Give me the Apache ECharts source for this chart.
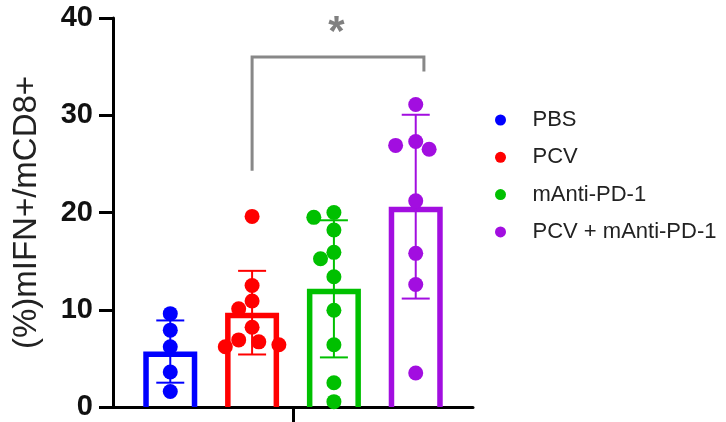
<!DOCTYPE html>
<html>
<head>
<meta charset="utf-8">
<script src="https://cdn.jsdelivr.net/npm/echarts@6/dist/echarts.min.js"></script>
<style>
html,body{margin:0;padding:0;background:#fff;}
#c{width:726px;height:422px;}
</style>
</head>
<body>
<div id="c"></div>
<script>
// ---- data ----
const groups = ['PBS', 'PCV', 'mAnti-PD-1', 'PCV + mAnti-PD-1'];
const colors = ['#0000ff', '#ff0000', '#00c000', '#a20ee0'];
const pbsValues = [9.6, 7.9, 6.2, 3.6, 1.6];
const pcvValues = [19.6, 12.5, 10.9, 10.1, 8.2, 6.9, 6.7, 6.4, 6.2];
const antiValues = [20.0, 19.5, 18.2, 15.9, 15.25, 13.4, 9.95, 6.4, 2.5, 0.55];
const comboValues = [31.1, 27.3, 26.9, 26.5, 21.2, 15.8, 12.6, 3.5];
const means = [5.7, 9.7, 12.15, 20.6];
const sds = [3.2, 4.3, 7.05, 9.45];
const yTicks = [0, 10, 20, 30, 40];
const yTitle = '(%)mIFN+/mCD8+';
const sigLabel = '*';
const sigFrom = 2, sigTo = 4; // group positions (1-based)
const sigTop = 36.0, sigLeftEnd = 24.3, sigRightEnd = 34.5;

const allValues = [pbsValues, pcvValues, antiValues, comboValues];

// ---- layout ----
const G = {left: 113, right: 253, top: 18, bottom: 15};
const W = 726, H = 422;
const xMin = 0.3, xMax = 4.7;
const pxX = (W - G.left - G.right) / (xMax - xMin);
const pxY = (H - G.top - G.bottom) / 40;

// beeswarm-like horizontal spread (px) computed from values
function swarm(vals) {
  const diam = 14.5, step = 6.7;
  const order = vals.map((v, i) => i).sort((a, b) => vals[b] - vals[a]);
  const placed = [];
  const off = new Array(vals.length).fill(0);
  for (const i of order) {
    const y = vals[i] * pxY;
    let k = 0, dx = 0;
    while (true) {
      const cand = k === 0 ? 0 : (k % 2 === 1 ? -Math.ceil(k / 2) : Math.ceil(k / 2)) * step;
      let ok = true;
      for (const p of placed) {
        const ddx = cand - p.x, ddy = y - p.y;
        if (ddx * ddx + ddy * ddy < diam * diam) { ok = false; break; }
      }
      if (ok) { dx = cand; break; }
      k++;
    }
    placed.push({x: dx, y: y});
    off[i] = dx;
  }
  return off;
}

const series = [];
// bars (outlined)
series.push({
  type: 'custom',
  z: 1,
  data: means.map((m, i) => [i + 1, m]),
  renderItem: function (params, api) {
    const i = params.dataIndex;
    const x = api.value(0), m = api.value(1);
    const p0 = api.coord([x, 0]);
    const p1 = api.coord([x, m]);
    const bw = 5.5, half = 27;
    return {
      type: 'polyline',
      shape: {points: [[p0[0] - half + bw / 2, p0[1]], [p0[0] - half + bw / 2, p1[1] + bw / 2],
                       [p0[0] + half - bw / 2, p1[1] + bw / 2], [p0[0] + half - bw / 2, p0[1]]]},
      style: {stroke: colors[i], lineWidth: bw, fill: null, lineJoin: 'miter'}
    };
  }
});
// error bars
series.push({
  type: 'custom',
  z: 2,
  data: means.map((m, i) => [i + 1, m - sds[i], m + sds[i]]),
  renderItem: function (params, api) {
    const i = params.dataIndex;
    const x = api.value(0);
    const lo = api.coord([x, api.value(1)]);
    const hi = api.coord([x, api.value(2)]);
    const cap = 14;
    const st = {stroke: colors[i], lineWidth: 2};
    return {
      type: 'group',
      children: [
        {type: 'line', shape: {x1: lo[0], y1: lo[1], x2: hi[0], y2: hi[1]}, style: st},
        {type: 'line', shape: {x1: hi[0] - cap, y1: hi[1], x2: hi[0] + cap, y2: hi[1]}, style: st},
        {type: 'line', shape: {x1: lo[0] - cap, y1: lo[1], x2: lo[0] + cap, y2: lo[1]}, style: st}
      ]
    };
  }
});
// dots
groups.forEach((g, gi) => {
  const vals = allValues[gi];
  const off = swarm(vals);
  series.push({
    type: 'scatter',
    name: g,
    z: 3,
    symbol: 'circle',
    symbolSize: 15,
    itemStyle: {color: colors[gi], opacity: 1},
    data: vals.map((v, i) => [gi + 1 + off[i] / pxX, v])
  });
});
// significance bracket
series.push({
  type: 'custom',
  z: 4,
  data: [[sigFrom, sigTo, sigTop, sigLeftEnd, sigRightEnd]],
  renderItem: function (params, api) {
    const a = api.coord([api.value(0), api.value(3)]);
    const b = api.coord([api.value(0), api.value(2)]);
    const c = api.coord([api.value(1) + 0.1, api.value(2)]);
    const d = api.coord([api.value(1) + 0.1, api.value(4)]);
    const mid = api.coord([(api.value(0) + api.value(1)) / 2 + 0.03, 40]);
    return {
      type: 'group',
      children: [
        {type: 'polyline', shape: {points: [a, b, c, d]},
         style: {stroke: '#888888', lineWidth: 3, fill: null, lineJoin: 'miter'}},
        {type: 'text', x: mid[0], y: mid[1] - 6,
         style: {text: sigLabel, fill: '#808080', font: 'bold 42px "Liberation Sans", Arial, sans-serif',
                 align: 'center', verticalAlign: 'top'}}
      ]
    };
  }
});

const chart = echarts.init(document.getElementById('c'), null, {renderer: 'canvas'});
chart.setOption({
  animation: false,
  backgroundColor: '#ffffff',
  grid: {left: G.left, right: G.right, top: G.top, bottom: G.bottom, containLabel: false},
  legend: {
    orient: 'vertical',
    left: 490,
    top: 104,
    icon: 'circle',
    itemWidth: 54,
    itemHeight: 11,
    itemGap: 15.3,
    selectedMode: false,
    data: groups,
    textStyle: {fontSize: 22, lineHeight: 22, color: '#222', fontFamily: '"Liberation Sans", Arial, sans-serif'}
  },
  xAxis: {
    type: 'value',
    min: xMin,
    max: xMax,
    axisLine: {show: true, onZero: false, lineStyle: {color: '#000', width: 3}},
    axisTick: {show: true, customValues: [2.5], length: 15, lineStyle: {color: '#000', width: 3}},
    axisLabel: {show: false},
    splitLine: {show: false}
  },
  yAxis: {
    type: 'value',
    min: yTicks[0],
    max: yTicks[yTicks.length - 1],
    interval: 10,
    name: yTitle,
    nameLocation: 'middle',
    nameGap: 70,
    nameTextStyle: {fontSize: 33, color: '#222', fontFamily: '"Liberation Sans", Arial, sans-serif'},
    axisLine: {show: true, lineStyle: {color: '#000', width: 3}},
    axisTick: {show: true, length: 14, lineStyle: {color: '#000', width: 3}},
    axisLabel: {margin: 20, fontSize: 29, fontWeight: 'bold', color: '#111',
                fontFamily: '"Liberation Sans", Arial, sans-serif'},
    splitLine: {show: false}
  },
  series: series
});
</script>
</body>
</html>
